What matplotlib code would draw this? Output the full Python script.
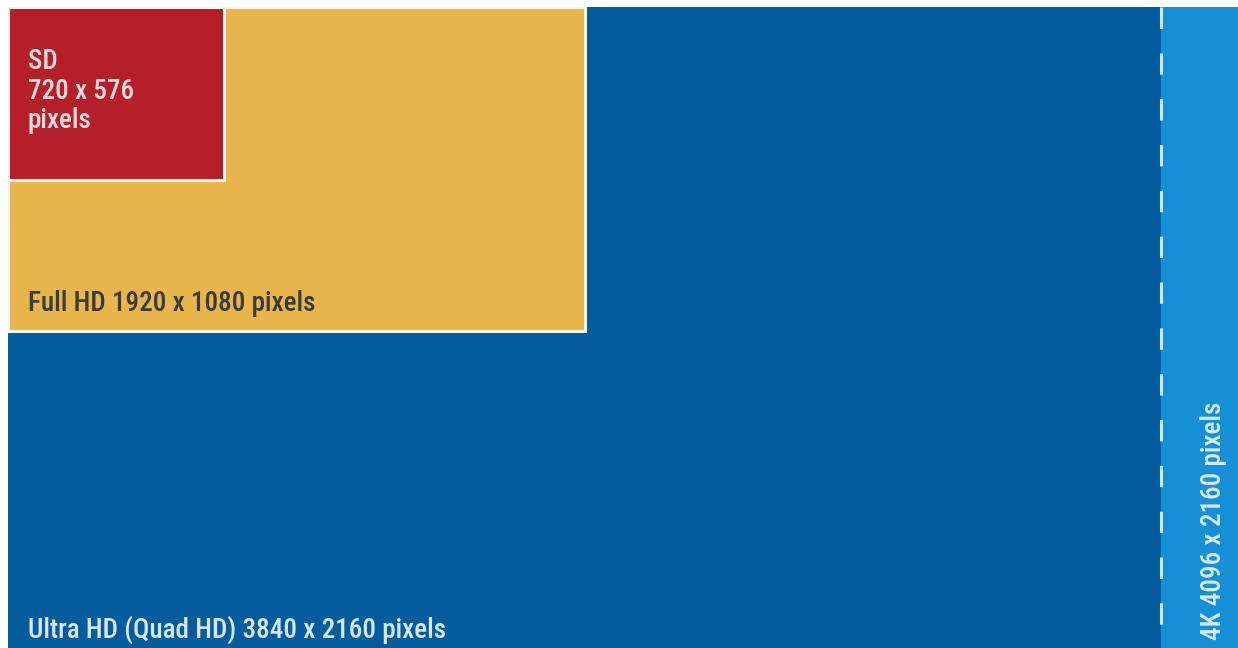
import matplotlib
matplotlib.use("Agg")
import matplotlib.pyplot as plt
from matplotlib.patches import Rectangle
from matplotlib import font_manager

# resolutions, drawn largest first so smaller ones sit on top
names = ["4K", "Ultra HD", "Full HD", "SD"]
widths = [4096, 3840, 1920, 720]
heights = [2160, 2160, 1080, 576]
colors = ["#1590d6", "#035c9e", "#e8b54a", "#b41f29"]
labels = [
    "4K 4096 x 2160 pixels",
    "Ultra HD (Quad HD) 3840 x 2160 pixels",
    "Full HD 1920 x 1080 pixels",
    "SD\n720 x 576\npixels",
]
text_colors = ["#d8ecf8", "#d8e8f6", "#3b3b3b", "#f4dcdc"]

available = {f.name for f in font_manager.fontManager.ttflist}
family = [f for f in ["Roboto Condensed", "Liberation Sans Narrow", "DejaVu Sans"]
          if f in available]
plt.rcParams["font.family"] = family

W, H = 1238, 648
fig = plt.figure(figsize=(W / 100, H / 100), dpi=100)
ax = fig.add_axes([8 / W, 0, 1 - 8 / W, (H - 7) / H])
ax.set_xlim(0, 4096)
ax.set_ylim(2134, 0)
ax.axis("off")

PX = 0.72  # points per pixel at dpi 100

for i, (w, h, c) in enumerate(zip(widths, heights, colors)):
    edge = "none" if i < 2 else "#fbf6ea"
    ax.add_patch(Rectangle((0, 0), w, h, facecolor=c, edgecolor=edge, lw=2.2,
                           zorder=i + 1))

# dashed boundary between Ultra HD and 4K
ax.plot([widths[1], widths[1]], [0, heights[1]], color="#cfe9f8", lw=2.2,
        ls=(0, (7, 8)), zorder=3)

fs = 19.5
common = dict(textcoords="offset points", fontsize=fs, fontweight="medium",
              zorder=10, annotation_clip=False)
# 4K, vertical along right strip
ax.annotate(labels[0], xy=(widths[1], heights[0]), xytext=(52 * PX, 16 * PX),
            rotation=90, ha="center", va="bottom", color=text_colors[0], **common)
# Ultra HD
ax.annotate(labels[1], xy=(0, heights[1]), xytext=(20 * PX, 18 * PX),
            ha="left", va="baseline", color=text_colors[1], **common)
# Full HD
ax.annotate(labels[2], xy=(0, heights[2]), xytext=(20 * PX, 20 * PX),
            ha="left", va="baseline", color=text_colors[2], **common)
# SD
ax.annotate(labels[3], xy=(0, 0), xytext=(20 * PX, -41 * PX),
            ha="left", va="top", color=text_colors[3], linespacing=1.12,
            **common)

fig.savefig("out.png", dpi=100, facecolor="white")
